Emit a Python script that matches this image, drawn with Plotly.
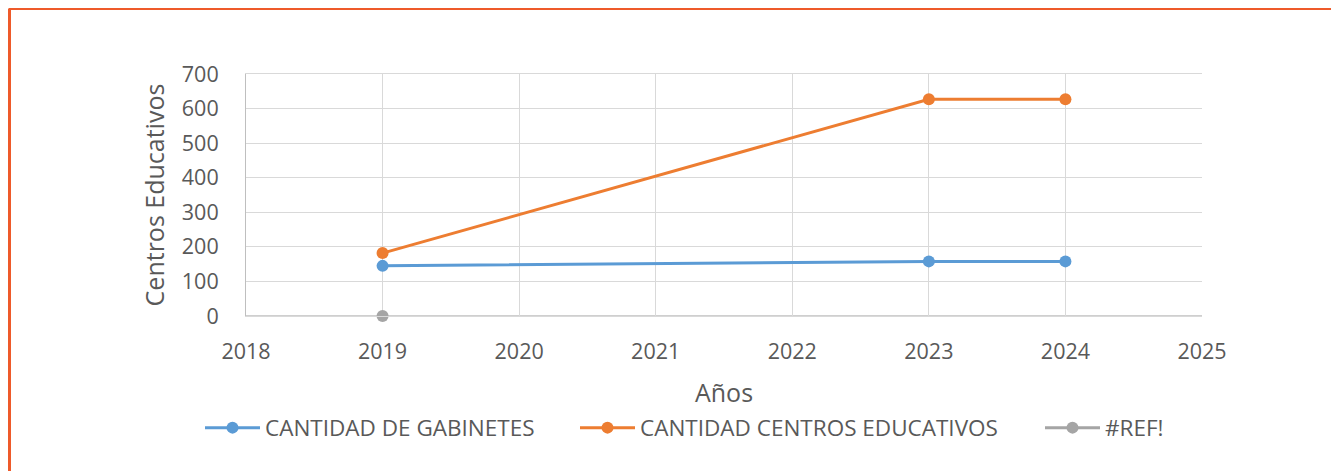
import plotly.graph_objects as go

years = [2019, 2023, 2024]
gabinetes = [145, 158, 158]
centros = [182, 627, 627]
ref_years = [2019]
ref_vals = [0]

x_ticks = [2018, 2019, 2020, 2021, 2022, 2023, 2024, 2025]
y_ticks = [0, 100, 200, 300, 400, 500, 600, 700]

# the page has an 8px body margin, so figure coords = page coords - 8
OFF = 8
W, H = 1339 - OFF, 471 - OFF
L, R, T, B = 246 - OFF, 1202 - OFF, 74 - OFF, 316 - OFF

font_family = "Open Sans, Liberation Sans, sans-serif"
txt = "#595959"

fig = go.Figure()
fig.add_trace(go.Scatter(x=years, y=gabinetes, mode="lines+markers", name="CANTIDAD DE GABINETES",
                         line=dict(color="#5B9BD5", width=3), marker=dict(size=12, color="#5B9BD5"),
                         legend="legend"))
fig.add_trace(go.Scatter(x=years, y=centros, mode="lines+markers", name="CANTIDAD CENTROS EDUCATIVOS",
                         line=dict(color="#ED7D31", width=3), marker=dict(size=12, color="#ED7D31"),
                         legend="legend2"))
fig.add_trace(go.Scatter(x=ref_years, y=ref_vals, mode="lines+markers", name="#REF!",
                         line=dict(color="#A5A5A5", width=3), marker=dict(size=12, color="#A5A5A5"),
                         cliponaxis=False, legend="legend3"))

def px_x(p):
    return (p - OFF - L) / (R - L)

def px_y(p):
    return (B - (p - OFF)) / (B - T)

def leg(xpx):
    return dict(orientation="h", x=px_x(xpx), xanchor="left", y=px_y(428), yanchor="middle",
                font=dict(size=22.5, color=txt), itemwidth=55, bgcolor="rgba(0,0,0,0)")

fig.update_layout(
    width=W, height=H,
    margin=dict(l=L, r=W - R, t=T, b=H - B),
    paper_bgcolor="white", plot_bgcolor="white",
    font=dict(family=font_family, color=txt, size=21),
    showlegend=True,
    legend=leg(200), legend2=leg(575), legend3=leg(1040),
    xaxis=dict(range=[2018, 2025], tickvals=x_ticks, ticktext=[str(v) for v in x_ticks],
               showgrid=True, gridcolor="#D9D9D9", gridwidth=1.2,
               showline=True, linecolor="#D9D9D9", mirror=True, zeroline=False,
               ticks="", ticklabelstandoff=16, tickfont=dict(size=21.5, color=txt),
               title=dict(text="Años", font=dict(size=25, color=txt), standoff=20)),
    yaxis=dict(range=[0, 700], tickvals=y_ticks,
               showgrid=True, gridcolor="#D9D9D9", gridwidth=1.2,
               showline=True, linecolor="#BFBFBF", mirror=False, zeroline=False,
               ticks="", ticklabelstandoff=22, tickfont=dict(size=21.5, color=txt),
               title=dict(text="Centros Educativos", font=dict(size=25, color=txt), standoff=10)),
    shapes=[
        dict(type="line", xref="paper", yref="paper", x0=px_x(9), x1=px_x(1345), y0=px_y(8.5), y1=px_y(8.5),
             line=dict(color="#EE5A2A", width=3)),
        dict(type="line", xref="paper", yref="paper", x0=px_x(9.5), x1=px_x(9.5), y0=px_y(8.5), y1=px_y(480),
             line=dict(color="#EE5A2A", width=3)),
        dict(type="line", xref="paper", yref="paper", x0=0, x1=1, y0=0, y1=0,
             line=dict(color="#BFBFBF", width=1.5), layer="below"),
    ],
)

fig.write_html("out.html")
